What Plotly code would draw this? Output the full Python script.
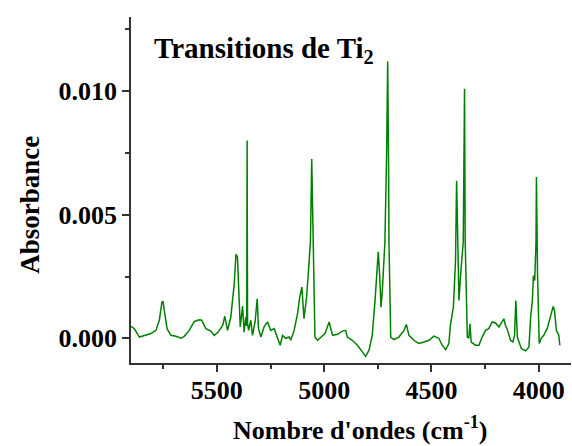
import plotly.graph_objects as go

wavenumber = [
    5900, 5885, 5861, 5838, 5807, 5784, 5768, 5756, 5751, 5745, 5732, 5714, 5691, 5667, 5652,
    5629, 5605, 5582, 5571, 5551, 5528, 5512, 5494, 5473, 5463, 5450, 5435, 5419, 5411, 5404,
    5399, 5391, 5380, 5373, 5365, 5361, 5359, 5357, 5352, 5342, 5334, 5322, 5312, 5306, 5295,
    5280, 5264, 5249, 5233, 5217, 5205, 5194, 5179, 5163, 5156, 5140, 5124, 5114, 5104, 5094,
    5082, 5073, 5064, 5058, 5052, 5043, 5031, 5016, 4996, 4977, 4961, 4938, 4915, 4900, 4892,
    4869, 4845, 4822, 4807, 4791, 4776, 4763, 4752, 4748, 4741, 4735, 4729, 4717, 4709, 4704,
    4700, 4698, 4690, 4675, 4652, 4628, 4617, 4605, 4582, 4559, 4535, 4512, 4489, 4466, 4450,
    4434, 4419, 4411, 4398, 4388, 4383, 4377, 4372, 4364, 4352, 4346, 4343, 4333, 4326, 4321,
    4315, 4295, 4279, 4264, 4248, 4233, 4217, 4202, 4186, 4171, 4163, 4155, 4145, 4132, 4121,
    4113, 4107, 4100, 4093, 4081, 4061, 4046, 4038, 4030, 4025, 4019, 4013, 4011, 4006, 3998,
    3989, 3977, 3961, 3946, 3933, 3927, 3918, 3907, 3902,
]
absorbance = [
    0.00048, 0.00039, 0.00005, 0.00012, 0.00019, 0.00032, 0.00073, 0.00146, 0.0015, 0.00113,
    0.00039, 0.00012, 0.00008, 0.0, 0.00008, 0.00032, 0.00068, 0.00075, 0.00073, 0.00039,
    0.00029, 0.00012, 0.00025, 0.00052, 0.00089, 0.00032, 0.00086, 0.0022, 0.0034, 0.00328,
    0.00234, 0.00046, 0.0013, 0.00025, 0.00086, 0.0005, 0.0080, 0.0006, 0.00032, 0.00073,
    0.00012, 0.00066, 0.0016, 0.00039, 0.00005, 0.00046, 0.00066, 0.00032, 0.00039, 0.0,
    -0.00028, 0.00012, 0.0, 0.00005, -0.00008, 0.00032, 0.001, 0.00166, 0.00207, 0.00079,
    0.00166, 0.00274, 0.0039, 0.00725, 0.0039, 0.00005, -0.00008, 0.00005, 0.00019, 0.00066,
    0.00012, 0.00016, 0.00029, 0.00032, 0.00005, -0.00008, -0.00028, -0.00055, -0.00073, -0.00048,
    0.00012, 0.00153, 0.00314, 0.0035, 0.00247, 0.00126, 0.00193, 0.0039, 0.0075, 0.0112,
    0.0070, 0.0039, 0.00005, -0.00005, 0.00005, 0.00032, 0.00056, 0.00012, -0.00008, -0.00021,
    -0.00015, -0.00008, 0.00009, 0.0, -0.00028, -0.00046, -0.00021, 0.00059, 0.00126, 0.00314,
    0.00637, 0.00274, 0.00153, 0.0026, 0.0039, 0.0101, 0.0039, 0.00005, 0.0, 0.00059,
    -0.00015, -0.00028, -0.00028, 0.00005, 0.00032, 0.00039, 0.00066, 0.00062, 0.00046, 0.00066,
    0.00079, 0.00052, 0.00032, -0.00008, -0.00015, 0.00012, 0.00153, 0.00005, -0.00015, -0.00042,
    -0.00051, -0.00035, 0.00086, 0.00153, 0.00254, 0.00234, 0.0039, 0.00653, 0.0026, -0.00021,
    0.0, 0.00012, 0.00039, 0.00086, 0.00129, 0.00113, 0.00032, 0.00012, -0.00028,
]

x_tickvals = [5500, 5000, 4500, 4000]
y_tickvals = [0.000, 0.005, 0.010]
y_ticktext = ["0.000", "0.005", "0.010"]

FONT = "Liberation Serif"

fig = go.Figure()
fig.add_trace(go.Scatter(
    x=wavenumber, y=absorbance, mode="lines",
    line=dict(color="#008000", width=1.5),
    showlegend=False, hoverinfo="skip",
))

axis_common = dict(
    showline=True, linecolor="#333333", linewidth=1.5,
    ticks="outside", ticklen=7, tickwidth=1.5, tickcolor="#333333",
    showgrid=False, zeroline=False,
    tickfont=dict(family=FONT, size=26, color="black", weight="bold"),
    minor=dict(ticks="outside", ticklen=4, tickwidth=1.5, tickcolor="#333333", showgrid=False),
)

fig.update_layout(
    width=572, height=446,
    margin=dict(l=131, r=1, t=17, b=83),
    paper_bgcolor="white", plot_bgcolor="white",
    xaxis=dict(range=[5900, 3850], tickvals=x_tickvals,
               minor_dtick=250, ticklabelstandoff=-4, **axis_common),
    yaxis=dict(range=[-0.001, 0.013], tickvals=y_tickvals, ticktext=y_ticktext,
               minor_dtick=0.0025, **axis_common),
    annotations=[
        dict(text="Transitions de Ti<sub>2</sub>", xref="paper", yref="paper",
             x=0.048, y=0.905, xanchor="left", yanchor="middle", showarrow=False,
             font=dict(family=FONT, size=29, color="black", weight="bold")),
        dict(text="Absorbance", xref="paper", yref="paper",
             x=-0.23, y=0.457, xanchor="center", yanchor="middle", textangle=-90,
             showarrow=False,
             font=dict(family=FONT, size=27, color="black", weight="bold")),
        dict(text="Nombre d'ondes (cm<sup>-1</sup>)", xref="paper", yref="paper",
             x=0.52, y=-0.19, xanchor="center", yanchor="middle", showarrow=False,
             font=dict(family=FONT, size=26, color="black", weight="bold")),
    ],
)

fig.write_html(
    "out.html",
    config={"displayModeBar": False},
    post_script="document.body.style.margin='0';document.body.style.padding='0';document.body.style.overflow='hidden';",
)
